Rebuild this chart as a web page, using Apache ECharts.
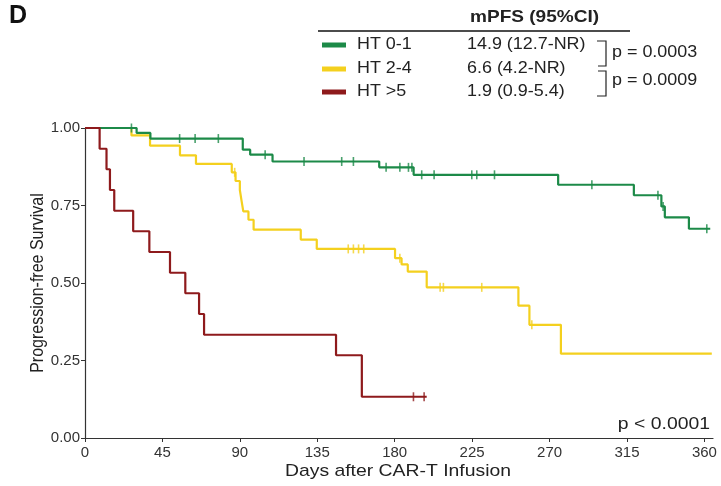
<!DOCTYPE html>
<html>
<head>
<meta charset="utf-8">
<script src="https://cdn.jsdelivr.net/npm/echarts@6/dist/echarts.min.js"></script>
<style>
html,body{margin:0;padding:0;background:#fff;}
#chart{width:721px;height:486px;}
</style>
</head>
<body>
<div id="chart"></div>
<script>
// ---- Data ----
const groupNames = ['HT 0-1', 'HT 2-4', 'HT >5'];
const mpfsLabels = ['14.9 (12.7-NR)', '6.6 (4.2-NR)', '1.9 (0.9-5.4)'];
const pValues = ['p = 0.0003', 'p = 0.0009'];
const overallP = 'p < 0.0001';
const xTicks = [0, 45, 90, 135, 180, 225, 270, 315, 360];
const yTicks = [0, 0.25, 0.5, 0.75, 1];

const greenTimes = [0, 30, 38, 91.7, 96, 109, 171, 191, 275, 319, 335, 337, 351, 363.4];
const greenSurv  = [1, 0.984, 0.966, 0.93, 0.914, 0.892, 0.873, 0.849, 0.817, 0.783, 0.747, 0.712, 0.675, 0.675];
const greenCensor = [27, 55, 64, 77.5, 104.7, 127.3, 149.2, 156, 175, 183, 188, 190, 195.7, 202.9, 224.8, 227.7, 238, 294.6, 333, 336, 361.4];

const yellowTimes = [0, 27, 37.8, 55.2, 64.5, 85.3, 87.5, 90, 91, 92, 95, 98, 125.4, 134.7, 180.2, 184, 187.6, 198.6, 251.9, 258.3, 276.6, 364.3];
const yellowSurv  = [1, 0.976, 0.943, 0.912, 0.884, 0.857, 0.829, 0.8, 0.765, 0.731, 0.704, 0.672, 0.64, 0.61, 0.58, 0.56, 0.537, 0.486, 0.427, 0.365, 0.272, 0.272];
const yellowCensor = [87, 153, 156, 159, 162, 183, 206.4, 208.3, 230.6, 259.7];

const redTimes = [0, 8.5, 12.5, 14.5, 17, 28, 37.4, 49.4, 58.3, 66.3, 69.2, 145.9, 160.9, 198.6];
const redSurv  = [1, 0.933, 0.867, 0.8, 0.733, 0.667, 0.6, 0.533, 0.467, 0.4, 0.333, 0.267, 0.133, 0.133];
const redCensor = [190.9, 197.1];

const colors = ['#1c8a48', '#f4d01e', '#8e1a1c'];

// ---- Build ----
function stepVal(times, surv, t) {
  let v = surv[0];
  for (let i = 0; i < times.length; i++) { if (times[i] <= t) v = surv[i]; }
  return v;
}
const groups = [
  [greenTimes, greenSurv, greenCensor],
  [yellowTimes, yellowSurv, yellowCensor],
  [redTimes, redSurv, redCensor]
];
const zOrder = [3, 2, 4];
const series = [];
groups.forEach((g, i) => {
  series.push({
    name: groupNames[i], type: 'line', step: 'end', showSymbol: false,
    data: g[0].map((t, k) => [t, g[1][k]]),
    lineStyle: { color: colors[i], width: 2.2 },
    z: zOrder[i], animation: false
  });
  series.push({
    name: groupNames[i] + ' censored', type: 'scatter',
    data: g[2].map(t => [t, stepVal(g[0], g[1], t)]),
    symbol: 'rect', symbolSize: [1.6, 9],
    itemStyle: { color: colors[i] },
    z: zOrder[i], animation: false
  });
});

const font = 'Liberation Sans, Arial, sans-serif';
const txt = '#222';
const sx = 1.12;
const graphics = [];
graphics.push({ type: 'text', x: 9, y: 16, style: { text: 'D', font: 'bold 25px ' + font, fill: '#111', verticalAlign: 'middle' } });
graphics.push({ type: 'text', x: 470, y: 17, scaleX: sx, style: { text: 'mPFS (95%CI)', font: 'bold 17px ' + font, fill: txt, verticalAlign: 'middle' } });
graphics.push({ type: 'line', shape: { x1: 318, y1: 31, x2: 630, y2: 31 }, style: { stroke: '#111', lineWidth: 1.5 } });
const rowY = [45, 69, 92];
groupNames.forEach((n, i) => {
  graphics.push({ type: 'rect', shape: { x: 322, y: rowY[i] - 2.5, width: 24, height: 5 }, style: { fill: colors[i] } });
  graphics.push({ type: 'text', x: 357, y: rowY[i], scaleX: sx, style: { text: n, font: '16px ' + font, fill: txt, verticalAlign: 'middle' } });
  graphics.push({ type: 'text', x: 467, y: rowY[i], scaleX: sx, style: { text: mpfsLabels[i], font: '16px ' + font, fill: txt, verticalAlign: 'middle' } });
});
graphics.push({ type: 'polyline', shape: { points: [[597, 41], [606, 41], [606, 66], [598, 66]] }, style: { stroke: '#222', lineWidth: 1.2, fill: null } });
graphics.push({ type: 'polyline', shape: { points: [[598, 71], [606, 71], [606, 96], [597, 96]] }, style: { stroke: '#222', lineWidth: 1.2, fill: null } });
graphics.push({ type: 'text', x: 612, y: 53, scaleX: sx, style: { text: pValues[0], font: '16px ' + font, fill: txt, verticalAlign: 'middle' } });
graphics.push({ type: 'text', x: 612, y: 81, scaleX: sx, style: { text: pValues[1], font: '16px ' + font, fill: txt, verticalAlign: 'middle' } });
graphics.push({ type: 'text', x: 710, y: 424, scaleX: 1.14, style: { text: overallP, font: '17px ' + font, fill: txt, align: 'right', verticalAlign: 'middle' } });
graphics.push({ type: 'text', x: 398, y: 471, scaleX: 1.14, style: { text: 'Days after CAR-T Infusion', font: '17px ' + font, fill: txt, align: 'center', verticalAlign: 'middle' } });
graphics.push({ type: 'text', x: 38, y: 283, rotation: Math.PI / 2, scaleY: sx, style: { text: 'Progression-free Survival', font: '16px ' + font, fill: txt, align: 'center', verticalAlign: 'middle' } });

const chart = echarts.init(document.getElementById('chart'), null, { renderer: 'canvas' });
chart.setOption({
  animation: false,
  backgroundColor: '#fff',
  grid: { left: 85, right: 8, top: 128, bottom: 48, containLabel: false },
  xAxis: {
    type: 'value', min: 0, max: 365,
    axisLine: { show: true, lineStyle: { color: '#333', width: 1.2 } },
    axisTick: { show: true, length: 4, lineStyle: { color: '#333' }, customValues: xTicks },
    axisLabel: { customValues: xTicks, fontSize: 15, color: '#333', fontFamily: font, margin: 7 },
    splitLine: { show: false }
  },
  yAxis: {
    type: 'value', min: 0, max: 1, interval: 0.25,
    axisLine: { show: true, lineStyle: { color: '#333', width: 1.2 } },
    axisTick: { show: true, length: 4, lineStyle: { color: '#333' } },
    axisLabel: { fontSize: 15, color: '#333', fontFamily: font, margin: 5, formatter: v => v.toFixed(2) },
    splitLine: { show: false }
  },
  series: series,
  graphic: graphics
});
</script>
</body>
</html>
